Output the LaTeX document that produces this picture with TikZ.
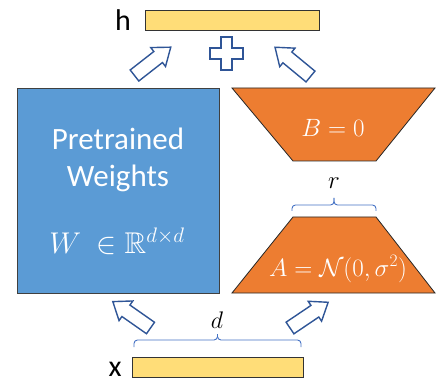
\RequirePackage{fix-cm}
\documentclass[tikz,border=0pt]{standalone}
\usepackage{amssymb}
\usepackage[no-math]{fontspec}
\setmainfont{Carlito}
\definecolor{wblue}{HTML}{5B9BD5}
\definecolor{lorange}{HTML}{ED7D31}
\definecolor{hyellow}{HTML}{FFDD78}
\definecolor{arrowblue}{HTML}{2F5597}
\definecolor{bracecol}{HTML}{4472C4}
\newcommand\bigarrow[2]{\begin{scope}[shift={#1},rotate=#2]
\draw[blk] (0,-7)--(30,-7)--(30,-12)--(46,0)--(30,12)--(30,7)--(0,7)--cycle;
\end{scope}}
\begin{document}
\begin{tikzpicture}[x=1pt,y=-1pt,
  blk/.style={draw=arrowblue, line width=1.4pt, fill=white, line join=miter},
  vecbar/.style={draw=black!80, line width=0.8pt, fill=hyellow, inner sep=0pt, minimum height=20pt},
  trap/.style={draw=black!85, line width=0.8pt, fill=lorange},
  brc/.style={draw=bracecol, line width=0.9pt, rounded corners=3.5pt},
  lbl/.style={inner sep=0pt, anchor=base},
  wtxt/.style={lbl, text=white, font=\fontsize{31}{36}\selectfont},
  big/.style={lbl, font=\fontsize{30}{36}\selectfont},
]
\useasboundingbox (0,0) rectangle (441,387);
% vectors
\node[vecbar, minimum width=174pt] (hbar) at (232,20) {};
\node[vecbar, minimum width=171pt] (xbar) at (217.5,367) {};
\node[big] (hlab) at (123,31) {h};
\node[big] (xlab) at (115,376) {x};
% pretrained weights
\node[draw=black!75, line width=0.8pt, fill=wblue, minimum width=202pt, minimum height=205pt, inner sep=0pt] (W) at (118,190.5) {};
\node[wtxt] (pt) at (118,150) {Pretrained};
\node[wtxt] (wt) at (118,187) {Weights};
\node[lbl, text=white, font=\fontsize{30}{36}\selectfont] (wf) at (117,253) {$W\ \in\mathbb{R}^{d\times d}$};
% B and A
\draw[trap] (232,88) -- (435,88) -- (376,161) -- (293,161) -- cycle;
\draw[trap] (293,217) -- (376,217) -- (435,293) -- (232,293) -- cycle;
\node[lbl, text=white, font=\fontsize{25}{30}\selectfont] (B) at (333,137) {$B=0$};
\node[lbl, text=white, font=\fontsize{25}{30}\selectfont] (A) at (338,276) {$A=\mathcal{N}(0,\sigma^2)$};
% braces
\coordinate (r1) at (292,211);
\coordinate (r2) at (376,211);
\coordinate (rt) at (334,198);
\draw[brc] (r1) -- (292,205) -- (334,205) -- (rt);
\draw[brc] (rt) -- (334,205) -- (376,205) -- (r2);
\node[lbl, font=\fontsize{25}{30}\selectfont] (rl) at (334,189) {$r$};
\coordinate (d1) at (134,347);
\coordinate (d2) at (301,347);
\coordinate (dt) at (217.5,334);
\draw[brc] (d1) -- (134,340) -- (217.5,340) -- (dt);
\draw[brc] (dt) -- (217.5,340) -- (301,340) -- (d2);
\node[lbl, font=\fontsize{24}{30}\selectfont] (dl) at (217,328) {$d$};
% block arrows
\bigarrow{(134.5,75.5)}{38}
\bigarrow{(310.5,76.5)}{140.5}
\bigarrow{(150.5,328)}{145}
\bigarrow{(290,328)}{34}
% plus
\draw[blk] (221,37)--(232,37)--(232,48)--(243,48)--(243,59)--(232,59)--(232,70)--(221,70)--(221,59)--(210,59)--(210,48)--(221,48)--cycle;
\end{tikzpicture}
\end{document}
